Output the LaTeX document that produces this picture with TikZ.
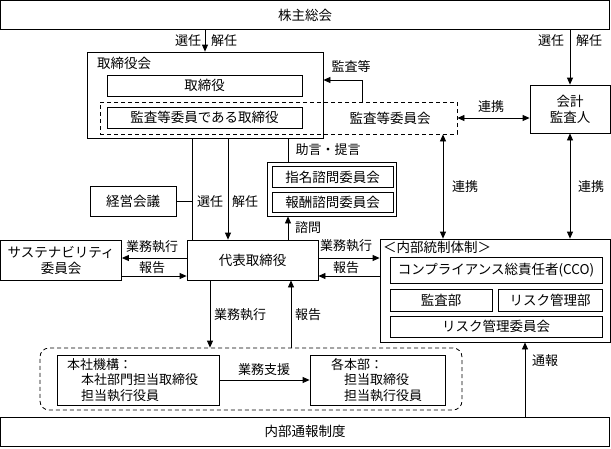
\documentclass[tikz,border=0pt]{standalone}
\usepackage{fontspec}
\setmainfont{Noto Sans CJK JP}
\usetikzlibrary{arrows.meta}
\begin{document}
\begin{tikzpicture}[x=1pt,y=-1pt,
  every node/.style={font=\fontsize{13.5}{16}\selectfont, inner sep=0pt},
  box/.style={draw, line width=0.8pt, rectangle},
  dbox/.style={draw, line width=0.8pt, dash pattern=on 4pt off 3pt},
  lbl/.style={font=\fontsize{13}{15}\selectfont},
  ln/.style={line width=0.8pt},
  arr/.style={line width=0.8pt, -{Triangle[length=7pt,width=6pt]}},
  darr/.style={line width=0.8pt, {Triangle[length=7pt,width=6pt]}-{Triangle[length=7pt,width=6pt]}}]
\useasboundingbox (0,0) rectangle (611,448);
% boxes
\node[box, minimum width=609pt, minimum height=29pt] (sh) at (305,15) {株主総会};
\node[box, minimum width=236pt, minimum height=86pt] (board) at (205,95) {};
\node[anchor=north west] (boardlbl) at (97,57) {取締役会};
\node[box, minimum width=195pt, minimum height=21pt] (dir) at (204.5,85.5) {取締役};
\node[dbox, minimum width=357pt, minimum height=32pt] (audcom) at (278.5,118) {};
\node[box, minimum width=195pt, minimum height=21pt] (auddir) at (204.5,117.5) {監査等委員である取締役};
\node (audcomlbl) at (390,118) {監査等委員会};
\node[box, minimum width=80pt, minimum height=48pt, align=center] (auditor) at (570,109) {会計\\監査人};
\node[box, minimum width=129pt, minimum height=54pt] (grp) at (331.5,189) {};
\node[box, minimum width=121pt, minimum height=21pt] (nom) at (332.5,177) {指名諮問委員会};
\node[box, minimum width=121pt, minimum height=20pt] (rem) at (332.5,202) {報酬諮問委員会};
\node[box, minimum width=86pt, minimum height=30pt] (keiei) at (133,201) {経営会議};
\node[box, minimum width=131pt, minimum height=40pt] (ceo) at (252.5,260) {代表取締役};
\node[box, minimum width=121pt, minimum height=40pt, align=center] (sust) at (61,260) {サステナビリティ\\委員会};
\node[box, minimum width=230pt, minimum height=103pt] (ic) at (495,290.5) {};
\node[anchor=west] (iclbl) at (383,247.5) {＜内部統制体制＞};
\node[box, minimum width=212pt, minimum height=26pt] (cco) at (496,270) {コンプライアンス総責任者(CCO)};
\node[box, minimum width=102pt, minimum height=22pt] (adept) at (441,300) {監査部};
\node[box, minimum width=104pt, minimum height=22pt] (rdept) at (550,300) {リスク管理部};
\node[box, minimum width=212pt, minimum height=21pt] (rcom) at (496,326.5) {リスク管理委員会};
\node[dbox, rounded corners=9pt, minimum width=422pt, minimum height=62pt] (ops) at (251,379) {};
\node[box, minimum width=162pt, minimum height=50pt] (hq) at (138,380) {};
\node[anchor=west, align=left, font=\fontsize{13}{15.5}\selectfont] (hqt) at (67,380) {本社機構：\\\hspace{14pt}本社部門担当取締役\\\hspace{14pt}担当執行役員};
\node[box, minimum width=135pt, minimum height=50pt] (div) at (377.5,380) {};
\node[anchor=west, align=left, font=\fontsize{13}{15.5}\selectfont] (divt) at (331,380) {各本部：\\\hspace{13pt}担当取締役\\\hspace{13pt}担当執行役員};
\node[box, minimum width=609pt, minimum height=29pt] (wh) at (305,431.5) {内部通報制度};
% coordinates
\coordinate (kc) at (192,201);
\coordinate (kt) at (362,80);
% connectors
\draw[arr] (sh.south -| 205,0) -- (board.north -| 205,0);
\node[lbl] (l1) at (188,41) {選任};
\node[lbl] (l2) at (224,41) {解任};
\draw[arr] (sh.south -| auditor.north) -- (auditor.north);
\node[lbl] (l3) at (551,41) {選任};
\node[lbl] (l4) at (589,41) {解任};
\draw[arr] (audcom.north -| kt) -- (kt) -- (board.east |- kt);
\node[lbl] (l5) at (351,67) {監査等};
\draw[darr] (audcom.east) -- (auditor.west |- audcom.east);
\node[lbl] (l6) at (491,107) {連携};
\draw[darr] (audcom.south -| 443,0) -- (ic.north -| 443,0);
\node[lbl] (l7) at (465,187) {連携};
\draw[darr] (auditor.south) -- (ic.north -| auditor.south);
\node[lbl] (l8) at (591,187) {連携};
\draw[ln] (board.south -| kc) -- (ceo.north -| kc);
\draw[ln] (keiei.east) -- (kc);
\draw[arr] (board.south -| 228,0) -- (ceo.north -| 228,0);
\node[lbl] (l9) at (210,202) {選任};
\node[lbl] (l10) at (245,202) {解任};
\draw[ln] (board.south -| 288,0) -- (grp.north -| 288,0);
\node[lbl] (l11) at (328,150) {助言・提言};
\draw[arr] (ceo.north -| 288,0) -- (grp.south -| 288,0);
\node[lbl] (l12) at (308,228) {諮問};
\draw[arr] (ceo.west |- 0,258) -- (sust.east |- 0,258);
\node[lbl] (l13) at (152,247) {業務執行};
\draw[arr] (sust.east |- 0,276) -- (ceo.west |- 0,276);
\node[lbl] (l14) at (152,268) {報告};
\draw[arr] (ceo.east |- 0,258) -- (ic.west |- 0,258);
\node[lbl] (l15) at (346,246) {業務執行};
\draw[arr] (ic.west |- 0,276) -- (ceo.east |- 0,276);
\node[lbl] (l16) at (346,268) {報告};
\draw[arr] (ceo.south -| 210,0) -- (ops.north -| 210,0);
\node[lbl] (l17) at (240,315) {業務執行};
\draw[arr] (ops.north -| 291,0) -- (ceo.south -| 291,0);
\node[lbl] (l18) at (308,315) {報告};
\draw[arr] (hq.east) -- (div.west);
\node[lbl] (l19) at (264,370) {業務支援};
\draw[arr] (wh.north -| 525,0) -- (ic.south -| 525,0);
\node[lbl] (l20) at (545,361) {通報};
\end{tikzpicture}
\end{document}
